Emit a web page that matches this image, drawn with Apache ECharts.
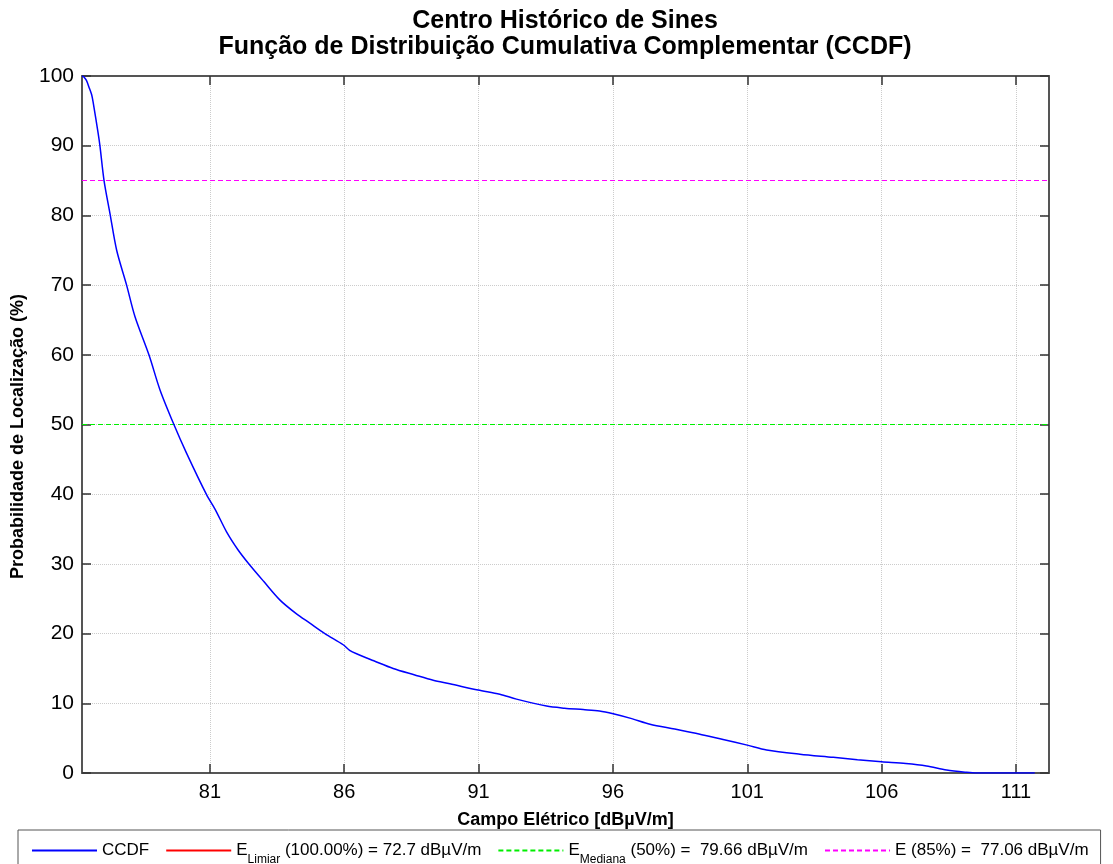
<!DOCTYPE html>
<html style="height: 100%">
<head>
    <meta charset="utf-8">
    <script src="https://cdn.jsdelivr.net/npm/echarts@6/dist/echarts.min.js"></script>
    <title>CCDF - Centro Histórico de Sines</title>
</head>
<body style="height: 100%; margin: 0; background: #fff">
<div id="container" style="width: 1113px; height: 864px"></div>
<script type="text/javascript">
// campo eletrico (dBuV/m) e probabilidade de localizacao (%)
let campo = [76.24, 76.3, 76.4, 76.5, 76.6, 76.66, 76.84, 76.91, 77.06, 77.28, 77.53, 77.9, 78.21, 78.74, 79.14, 79.66,
    80.13, 80.88, 81.2, 81.62, 82.05, 82.43, 83.0, 83.61, 84.2, 84.72, 85.28, 85.96, 86.2, 86.46, 87.1, 87.82,
    88.6, 89.31, 89.93, 90.98, 91.79, 92.41, 93.53, 94.2, 94.89, 95.5, 96.01, 96.7, 97.38, 98.3, 99.2, 100.1,
    101.0, 101.72, 102.96, 104.2, 105.1, 106.0, 106.9, 107.67, 108.42, 109.16, 109.53, 111.7]
let prob = [100, 99.9, 99.4, 98.4, 97.3, 96.1, 91.8, 89.9, 85.0, 80.3, 75.0, 70.0, 65.5, 59.9, 55.0, 50.0,
    45.9, 39.9, 37.8, 34.6, 32.0, 30.1, 27.5, 24.8, 22.9, 21.5, 20.0, 18.4, 17.6, 17.1, 16.1, 15.0,
    14.1, 13.3, 12.8, 11.9, 11.3, 10.6, 9.6, 9.3, 9.1, 8.9, 8.5, 7.8, 7.0, 6.3, 5.6, 4.8,
    4.0, 3.3, 2.7, 2.25, 1.9, 1.6, 1.35, 1.0, 0.43, 0.1, 0.0, 0.0]

let xTicks = [81, 86, 91, 96, 101, 106, 111]
let xMin = 76.24, xMax = 112.23
let eLimiar = 72.7      // E (100.00%)
let eMediana = 79.66    // E (50%)
let e85 = 77.06         // E (85%)
let pMediana = 50
let p85 = 85

let curve = campo.map((x, i) => [x, prob[i]])

let font = "'Liberation Sans', Arial, sans-serif"

let chart = echarts.init(document.getElementById("container"))

let legendText = {
    'CCDF': '{m|CCDF}',
    'ELimiar': '{m|E}{s|Limiar}{m| (100.00%) = ' + eLimiar + ' dBµV/m}',
    'EMediana': '{m|E}{s|Mediana}{m| (50%) =  ' + eMediana + ' dBµV/m}',
    'E85': '{m|E (85%) =  ' + e85 + ' dBµV/m}'
}

chart.setOption({
    backgroundColor: '#fff',
    animation: false,
    graphic: [
        {type: 'text', x: 565, y: 21, style: {text: 'Centro Histórico de Sines', font: 'bold 25px ' + font,
            fill: '#000', textAlign: 'center', textVerticalAlign: 'middle'}},
        {type: 'text', x: 565, y: 47, style: {text: 'Função de Distribuição Cumulativa Complementar (CCDF)',
            font: 'bold 25px ' + font, fill: '#000', textAlign: 'center', textVerticalAlign: 'middle'}}
    ],
    grid: {left: 82, right: 64, top: 76, bottom: 91, containLabel: false, outerBoundsMode: 'none'},
    legend: {
        left: 18, top: 830,
        padding: [12, 12, 8, 13],
        itemGap: 16, itemWidth: 65, itemHeight: 10,
        borderColor: '#555', borderWidth: 1,
        data: ['CCDF', 'ELimiar', 'EMediana', 'E85'],
        formatter: name => legendText[name],
        itemStyle: {color: 'rgba(0,0,0,0)', borderWidth: 0},
        textStyle: {
            fontFamily: font, fontSize: 17, color: '#000',
            rich: {
                m: {fontFamily: font, fontSize: 17, color: '#000', lineHeight: 30},
                s: {fontFamily: font, fontSize: 12, color: '#000', lineHeight: 14, verticalAlign: 'bottom'}
            }
        }
    },
    xAxis: [
        {
            type: 'value', min: xMin, max: xMax,
            name: 'Campo Elétrico [dBµV/m]', nameLocation: 'middle', nameGap: 38,
            nameTextStyle: {fontFamily: font, fontSize: 18, fontWeight: 'bold', color: '#000'},
            axisLine: {onZero: false, lineStyle: {color: '#555', width: 2}},
            axisTick: {inside: true, length: 9, customValues: xTicks, lineStyle: {color: '#333', width: 1.5}},
            axisLabel: {customValues: xTicks, margin: 9, fontFamily: font, fontSize: 20, color: '#000'},
            splitLine: {show: true, lineStyle: {color: '#cccccc', type: 'dotted', width: 1}}
        },
        {
            type: 'value', position: 'top', min: xMin, max: xMax,
            axisLine: {onZero: false, lineStyle: {color: '#555', width: 2}},
            axisTick: {inside: true, length: 9, customValues: xTicks, lineStyle: {color: '#333', width: 1.5}},
            axisLabel: {show: false},
            splitLine: {show: false}
        }
    ],
    yAxis: [
        {
            type: 'value', min: 0, max: 100, interval: 10,
            name: 'Probabilidade de Localização (%)', nameLocation: 'middle', nameGap: 55, nameRotate: 90,
            nameTextStyle: {fontFamily: font, fontSize: 18, fontWeight: 'bold', color: '#000', padding: [0, 24, 0, 0]},
            axisLine: {show: true, onZero: false, lineStyle: {color: '#555', width: 2}},
            axisTick: {show: true, inside: true, length: 9, lineStyle: {color: '#333', width: 1.5}},
            axisLabel: {margin: 8, fontFamily: font, fontSize: 21, color: '#000'},
            splitLine: {show: true, lineStyle: {color: '#cccccc', type: 'dotted', width: 1}}
        },
        {
            type: 'value', position: 'right', min: 0, max: 100, interval: 10,
            axisLine: {show: true, onZero: false, lineStyle: {color: '#555', width: 2}},
            axisTick: {show: true, inside: true, length: 9, lineStyle: {color: '#333', width: 1.5}},
            axisLabel: {show: false},
            splitLine: {show: false}
        }
    ],
    series: [
        {
            name: 'CCDF', type: 'line', data: curve, symbol: 'none',
            smooth: 0.3,
            lineStyle: {color: '#0000ff', width: 1.5}, itemStyle: {color: '#0000ff'}, z: 5
        },
        {
            // E limiar fica fora da escala, so aparece na legenda
            name: 'ELimiar', type: 'line', data: [], symbol: 'none',
            lineStyle: {color: '#ff0000', width: 1}, itemStyle: {color: '#ff0000'}
        },
        {
            name: 'EMediana', type: 'line', data: [], symbol: 'none',
            lineStyle: {color: '#00ee00', width: 1, type: [5, 3]}, itemStyle: {color: '#00ee00'},
            markLine: {symbol: 'none', silent: true, label: {show: false},
                lineStyle: {color: '#00ee00', width: 1, type: [5, 3]},
                data: [{yAxis: pMediana}]}
        },
        {
            name: 'E85', type: 'line', data: [], symbol: 'none',
            lineStyle: {color: '#ff00ff', width: 1, type: [5, 3]}, itemStyle: {color: '#ff00ff'},
            markLine: {symbol: 'none', silent: true, label: {show: false},
                lineStyle: {color: '#ff00ff', width: 1, type: [5, 3]},
                data: [{yAxis: p85}]}
        }
    ]
}, true)
</script>
</body>
</html>
